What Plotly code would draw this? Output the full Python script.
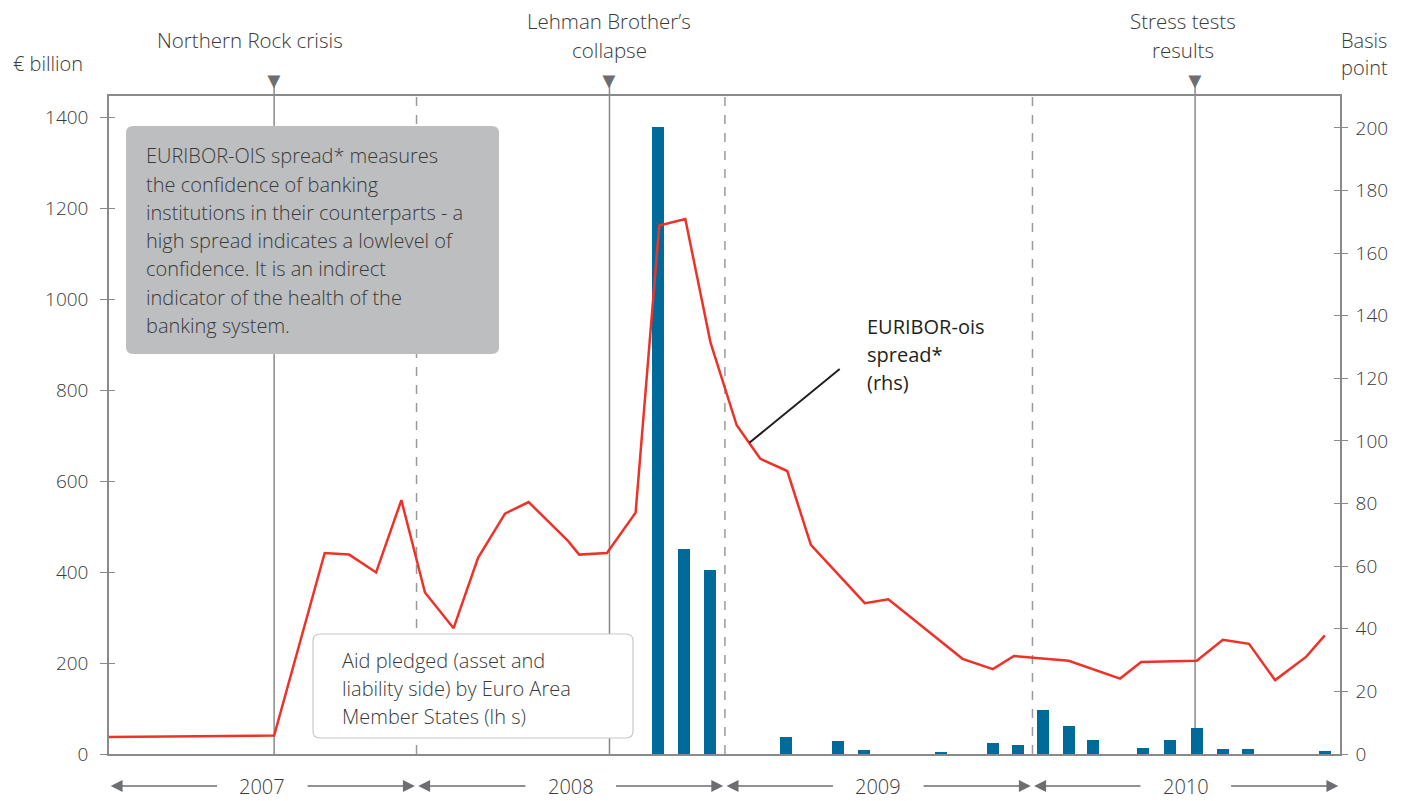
import plotly.graph_objects as go
import pandas as pd

# ---------------- data ----------------
spread_dates = ["2007-01-01", "2007-07-16", "2007-09-14", "2007-10-13", "2007-11-14", "2007-12-14",
                "2008-01-11", "2008-02-14", "2008-03-14", "2008-04-15", "2008-05-13", "2008-06-29",
                "2008-07-12", "2008-08-14", "2008-09-17", "2008-10-15", "2008-11-15", "2008-12-15",
                "2009-01-15", "2009-02-12", "2009-03-16", "2009-04-13", "2009-06-16", "2009-07-14",
                "2009-10-10", "2009-11-15", "2009-12-10", "2010-02-13", "2010-04-15", "2010-05-10",
                "2010-07-15", "2010-08-15", "2010-09-15", "2010-10-16", "2010-11-22", "2010-12-14"]
spread_bp = [5.4, 5.9, 64.2, 63.7, 58.0, 81.1,
             51.6, 40.2, 62.7, 76.8, 80.5, 68.0,
             63.7, 64.2, 77.1, 168.8, 170.9, 131.3,
             105.0, 94.3, 90.4, 66.8, 48.2, 49.4,
             30.4, 27.1, 31.3, 29.8, 24.1, 29.4,
             29.8, 36.5, 35.2, 23.6, 31.1, 37.9]

aid_dates = ["2008-10-14", "2008-11-13", "2008-12-14", "2009-03-15", "2009-05-15", "2009-06-15",
             "2009-09-14", "2009-11-15", "2009-12-15", "2010-01-13", "2010-02-13", "2010-03-14",
             "2010-05-12", "2010-06-13", "2010-07-15", "2010-08-15", "2010-09-14", "2010-12-14"]
aid_bn = [1380, 451, 405, 38, 29, 9.5,
          5, 25, 20.5, 97.5, 62, 31.5,
          14, 31.5, 58, 11.7, 11.7, 7.3]

event_dates = ["2007-07-16", "2008-08-17", "2010-07-13"]
event_labels = [["Northern Rock crisis"], ["Lehman Brother’s", "collapse"], ["Stress tests", "results"]]
years = [2007, 2008, 2009, 2010]
left_ticks = [0, 200, 400, 600, 800, 1000, 1200, 1400]
right_ticks = [0, 20, 40, 60, 80, 100, 120, 140, 160, 180, 200]

note_lines = ["EURIBOR-OIS spread* measures",
              "the confidence of banking",
              "institutions in their counterparts - a",
              "high spread indicates a lowlevel of",
              "confidence. It is an indirect",
              "indicator of the health of the",
              "banking system."]
aid_lines = ["Aid pledged (asset and", "liability side) by Euro Area", "Member States (lh s)"]
spread_lines = ["EURIBOR-ois", "spread*", "(rhs)"]

# ---------------- geometry / style ----------------
OFF = 8                      # page body margin offset
W, H = 1407 - OFF, 801 - OFF
L, R, T, B = 109, 1340, 96, 754   # plot area in page pixels
LEFT_MAX = 1448
RIGHT_MAX = 210.2
GRAY = "#8a8a8a"
TXT = "#3a3a3a"
FONT = "Open Sans"


def px(xp):
    return (xp - L) / (R - L)


def py(yp):
    return (B - yp) / (B - T)


def rounded_rect(x0, y0, x1, y1, r):
    X0, X1 = px(x0), px(x1)
    Y0, Y1 = py(y0), py(y1)
    rx, ry = r / (R - L), r / (B - T)
    return (f"M {X0+rx},{Y0} L {X1-rx},{Y0} Q {X1},{Y0} {X1},{Y0-ry} "
            f"L {X1},{Y1+ry} Q {X1},{Y1} {X1-rx},{Y1} L {X0+rx},{Y1} "
            f"Q {X0},{Y1} {X0},{Y1+ry} L {X0},{Y0-ry} Q {X0},{Y0} {X0+rx},{Y0} Z")


fig = go.Figure()

bar_width_ms = 14.2 * 86400000
fig.add_trace(go.Bar(x=aid_dates, y=aid_bn, yaxis="y", marker_color="#006b99",
                     marker_line_width=0, width=bar_width_ms, showlegend=False))
fig.add_trace(go.Scatter(x=spread_dates, y=spread_bp, yaxis="y2", mode="lines",
                         line=dict(color="#ee3229", width=2.5), showlegend=False))
# helper traces so inside-tick overlay axes render
fig.add_trace(go.Scatter(x=[None], y=[None], yaxis="y3", showlegend=False, hoverinfo="skip"))
fig.add_trace(go.Scatter(x=[None], y=[None], yaxis="y4", showlegend=False, hoverinfo="skip"))

shapes = []
# event vertical lines
for d in event_dates:
    shapes.append(dict(type="line", xref="x", yref="paper", x0=d, x1=d, y0=0, y1=py(84),
                       line=dict(color=GRAY, width=1.5), layer="below"))
# year boundary dashed lines
for y in years[1:]:
    shapes.append(dict(type="line", xref="x", yref="paper", x0=f"{y}-01-01", x1=f"{y}-01-01",
                       y0=0, y1=1, line=dict(color="#9a9a9a", width=1.5, dash="dash"), layer="below"))
# note boxes
shapes.append(dict(type="path", xref="paper", yref="paper", path=rounded_rect(126, 126, 499, 354, 7),
                   fillcolor="#bcbec0", line=dict(width=0), layer="above"))
shapes.append(dict(type="path", xref="paper", yref="paper", path=rounded_rect(313, 634, 633, 738, 7),
                   fillcolor="white", line=dict(color="#c8c8c8", width=1.2), layer="above"))

ann = []


def text(t, xp, yp, anchor="left", size=20, color=TXT, weight=300):
    ann.append(dict(text=t, xref="paper", yref="paper", x=px(xp), y=py(yp), xanchor=anchor,
                    yanchor="middle", showarrow=False,
                    font=dict(family=FONT, size=size, color=color, weight=weight)))


for i, t in enumerate(note_lines):
    text(t, 144, 156 + i * 28.2)
for i, t in enumerate(aid_lines):
    text(t, 340, 660 + i * 28)
for i, t in enumerate(spread_lines):
    text(t, 865, 326 + i * 28, color="#231f20", weight=400)

text("€ billion", 11, 64)
text("Basis", 1364, 40, anchor="center")
text("point", 1364, 68, anchor="center")

# event labels and triangle markers
shifts = [-24, 0, -12]
for d, lines, sh in zip(event_dates, event_labels, shifts):
    ys = [40] if len(lines) == 1 else [21, 50]
    for t, yy in zip(lines, ys):
        ann.append(dict(text=t, xref="x", yref="paper", x=d, y=py(yy), xshift=sh,
                        xanchor="center", yanchor="middle", showarrow=False,
                        font=dict(family=FONT, size=20.5, color=TXT, weight=300)))
    ann.append(dict(text="▼", xref="x", yref="paper", x=d, y=py(80),
                    xanchor="center", yanchor="middle", showarrow=False,
                    font=dict(family="DejaVu Sans", size=22, color="#6d6e71")))

# callout leader for the spread line
ann.append(dict(text="", xref="x", yref="y2", x="2009-01-30", y=99.4,
                axref="x", ayref="y2", ax="2009-05-19", ay=123.4,
                showarrow=True, arrowhead=0, arrowwidth=2, arrowcolor="#231f20",
                standoff=0, startstandoff=0))

# year labels with arrows
YEAR_Y = py(786)
for y in years:
    start = pd.Timestamp(f"{y}-01-01")
    end = pd.Timestamp(f"{y+1}-01-01")
    mid = start + (end - start) / 2
    ann.append(dict(text=str(y), xref="x", yref="paper", x=mid.strftime("%Y-%m-%d"), y=YEAR_Y,
                    xanchor="center", yanchor="middle", showarrow=False,
                    font=dict(family=FONT, size=20, color=TXT, weight=300)))
    for tail, head in [(mid - pd.Timedelta(days=52), start + pd.Timedelta(days=2)),
                       (mid + pd.Timedelta(days=52), end - pd.Timedelta(days=2))]:
        ann.append(dict(text="", xref="x", yref="paper", x=head.strftime("%Y-%m-%d"), y=YEAR_Y,
                        axref="x", ayref="pixel", ax=tail.strftime("%Y-%m-%d"), ay=0,
                        showarrow=True, arrowhead=2, arrowsize=1.7, arrowwidth=1.4,
                        arrowcolor="#6d6e71", standoff=0, startstandoff=0))

axis_common = dict(showgrid=False, zeroline=False)
fig.update_layout(
    width=W, height=H,
    margin=dict(l=L - OFF, r=W - (R - OFF), t=T - OFF, b=H - (B - OFF), pad=0),
    paper_bgcolor="white", plot_bgcolor="white",
    font=dict(family=FONT, size=19, color=TXT, weight=300),
    bargap=0,
    xaxis=dict(type="date", range=["2007-01-01", "2011-01-01"], showline=True, mirror=True,
               linecolor=GRAY, linewidth=1.5, showticklabels=False, ticks="", **axis_common),
    yaxis=dict(range=[0, LEFT_MAX], tickvals=left_ticks, showline=True, linecolor=GRAY, linewidth=1.5,
               ticks="outside", ticklen=7, tickcolor=GRAY, tickwidth=1.3, ticklabelstandoff=8,
               tickfont=dict(family=FONT, size=19, color=TXT, weight=300), **axis_common),
    yaxis2=dict(range=[0, RIGHT_MAX], tickvals=right_ticks, overlaying="y", side="right", anchor="x",
                showline=True, linecolor=GRAY, linewidth=1.5, ticks="outside", ticklen=6,
                tickcolor=GRAY, tickwidth=1.3, ticklabelstandoff=4,
                tickfont=dict(family=FONT, size=19, color=TXT, weight=300), **axis_common),
    yaxis3=dict(range=[0, LEFT_MAX], tickvals=left_ticks, overlaying="y", side="left", anchor="x",
                ticks="inside", ticklen=6, tickcolor=GRAY, tickwidth=1.3, showticklabels=False,
                showline=False, **axis_common),
    yaxis4=dict(range=[0, RIGHT_MAX], tickvals=right_ticks, overlaying="y", side="right", anchor="x",
                ticks="inside", ticklen=6, tickcolor=GRAY, tickwidth=1.3, showticklabels=False,
                showline=False, **axis_common),
    shapes=shapes,
    annotations=ann,
)

fig.write_html("out.html")
